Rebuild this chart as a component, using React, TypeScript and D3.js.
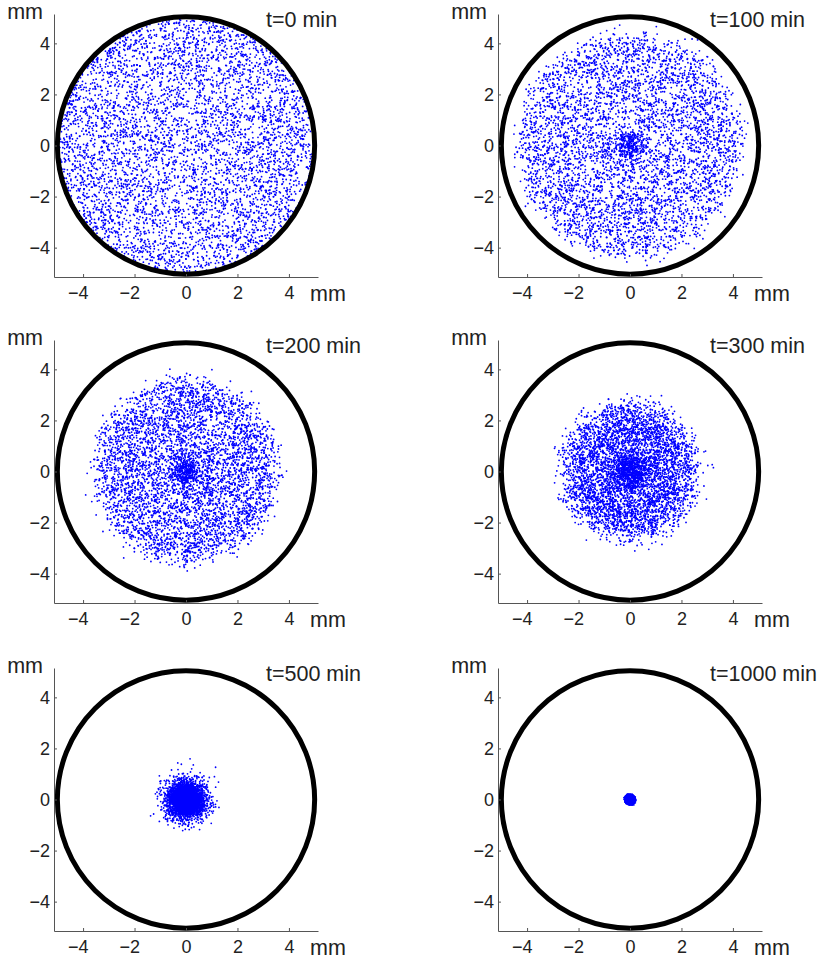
import React, { useEffect, useRef } from 'react';
import * as d3 from 'd3';

// one panel per time point
const times = [0, 100, 200, 300, 500, 1000];
// cloud shape (mm)
const cloudRadius = [4.95, 4.3, 3.5, 2.5, 0, 0.13];
const edgeBlur = [0, 0.22, 0.22, 0.3, 0.4, 0.04];
const coreShare = [0, 0.04, 0.07, 0.12, 0.55, 0];
const coreSpread = [0, 0.25, 0.3, 0.35, 0.22, 0];
const pointCount = 5000;
const tickValues = [-4, -2, 0, 2, 4];
const dishRadius = 5;

const W = 822;
const H = 961;
const plotW = 264;
const plotH = 263;
const colLeft = [54, 498];
const rowTop = [14, 340, 668];

const makeCloud = (i: number) => {
  const rnd = d3.randomLcg(0.137 * (i + 1));
  const normal = d3.randomNormal.source(rnd)(0, 1);
  const pts: [number, number][] = [];
  while (pts.length < pointCount) {
    let x, y;
    if (rnd() < coreShare[i]) {
      x = normal() * coreSpread[i];
      y = normal() * coreSpread[i];
    } else {
      const r = cloudRadius[i] * Math.sqrt(rnd());
      const a = 2 * Math.PI * rnd();
      x = r * Math.cos(a) + normal() * edgeBlur[i];
      y = r * Math.sin(a) + normal() * edgeBlur[i];
    }
    if (x * x + y * y > 4.97 * 4.97) continue;
    pts.push([x, y]);
  }
  return pts;
};

const App = () => {
  const svgRef = useRef<SVGSVGElement>(null);

  useEffect(() => {
    const svg = d3.select(svgRef.current);
    svg.selectAll('*').remove();

    const xScale = d3.scaleLinear().domain([-5.13, 5.13]).range([0, plotW]);
    const yScale = d3.scaleLinear().domain([-5.15, 5.15]).range([plotH, 0]);

    times.forEach((t, i) => {
      const left = colLeft[i % 2];
      const top = rowTop[Math.floor(i / 2)];
      const g = svg.append('g').attr('transform', `translate(${left},${top})`);

      // particles
      g.append('g')
        .selectAll('circle')
        .data(makeCloud(i))
        .join('circle')
        .attr('cx', d => xScale(d[0]))
        .attr('cy', d => yScale(d[1]))
        .attr('r', 0.9)
        .attr('fill', '#0000ff');

      // dish outline
      g.append('circle')
        .attr('cx', xScale(0))
        .attr('cy', yScale(0))
        .attr('r', xScale(dishRadius) - xScale(0))
        .attr('fill', 'none')
        .attr('stroke', '#000')
        .attr('stroke-width', 5);

      const xAxis = d3.axisBottom(xScale)
        .tickValues(tickValues)
        .tickSizeInner(-3)
        .tickSizeOuter(0)
        .tickPadding(9);
      const yAxis = d3.axisLeft(yScale)
        .tickValues(tickValues)
        .tickSizeInner(-3)
        .tickSizeOuter(0)
        .tickPadding(4);

      const gx = g.append('g').attr('transform', `translate(0,${plotH})`).call(xAxis);
      const gy = g.append('g').call(yAxis);

      [gx, gy].forEach(a => {
        a.selectAll('path, line').attr('stroke', '#555');
        a.selectAll('text')
          .attr('font-family', 'Liberation Sans, Arial, sans-serif')
          .attr('font-size', 18)
          .attr('fill', '#222');
      });
      // keep the digit centred on the tick, minus sign hangs left
      gx.selectAll('text').attr('text-anchor', 'end').attr('dx', 5);

      const label = (x: number, y: number, s: string, anchor: string) =>
        g.append('text')
          .attr('x', x)
          .attr('y', y)
          .attr('text-anchor', anchor)
          .attr('font-family', 'Liberation Sans, Arial, sans-serif')
          .attr('font-size', 21.5)
          .attr('fill', '#222')
          .text(s);

      label(-11, 5, 'mm', 'end');
      label(plotW - 8, plotH + 24, 'mm', 'start');
      label(212, 13, `t=${t} min`, 'start');
    });
  }, []);

  return (
    <svg
      ref={svgRef}
      width={W}
      height={H}
      style={{ position: 'absolute', left: 0, top: 0, background: '#fff' }}
    />
  );
};

export default App;
